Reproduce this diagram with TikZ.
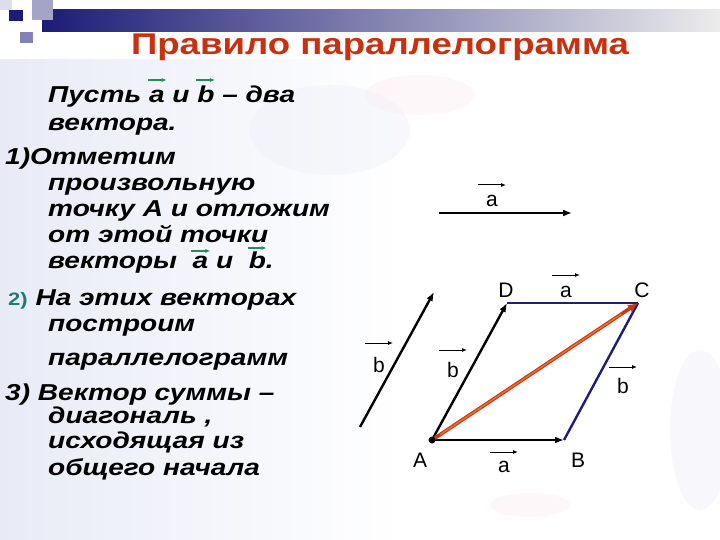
\documentclass[tikz,border=0pt]{standalone}
\usepackage{fontspec}
\setmainfont{Liberation Sans}
\newfontfamily\slidefont[FakeStretch=1.22]{Liberation Sans}
\usepackage{tikz}
\usetikzlibrary{arrows.meta, calc}

\definecolor{titlered}{RGB}{200,48,15}
\definecolor{navybar}{RGB}{28,28,120}
\definecolor{sideblue}{RGB}{30,30,120}
\definecolor{sumred}{RGB}{200,55,25}
\definecolor{sumorange}{RGB}{240,120,40}
\definecolor{vecgreen}{RGB}{40,140,90}
\definecolor{numteal}{RGB}{30,125,115}
\definecolor{bgblue}{RGB}{232,235,246}
\definecolor{bgpink}{RGB}{250,236,240}

\tikzset{
  txt/.style={font=\slidefont\fontsize{23}{23}\selectfont\bfseries\itshape, anchor=base west, inner sep=0pt},
  ptlabel/.style={font=\fontsize{21}{21}\selectfont, anchor=base, inner sep=0pt},
  vecline/.style={line width=2.4pt, -{Latex[length=9pt,width=7pt]}},
  sideline/.style={line width=2.4pt, sideblue},
  sumline/.style={line width=3.6pt, sumred, -{Latex[length=10pt,width=9pt]}},
  overarrow/.style={line width=1pt, -{Latex[length=5pt,width=4pt]}},
  tvecarrow/.style={line width=1.2pt, vecgreen, -{Latex[length=5pt,width=4pt]}}
}

% green arrow over a letter in the text
\newcommand\tvec[2][23]{\tikz[baseline=(v.base),x=1pt,y=1pt]{\node[inner sep=0pt,anchor=base] (v) at (0,0) {#2};
  \draw[tvecarrow, overlay] ([xshift=-1pt,yshift=#1pt]v.base west) -- ++(19,0);}}

\begin{document}
\begin{tikzpicture}[x=1pt,y=-1pt]
	\useasboundingbox (0,0) rectangle (720,540);
	% background
	\fill[white] (0,0) rectangle (720,540);
	\shade[left color=bgblue, right color=white] (0,60) rectangle (400,540);
	\fill[bgblue, opacity=0.3] (330,130) ellipse (80 and 45);
	\fill[bgblue, opacity=0.3] (700,430) ellipse (30 and 80);
	\fill[bgpink, opacity=0.4] (420,95) ellipse (55 and 20);
	\fill[bgpink, opacity=0.4] (530,505) ellipse (40 and 12);
	% header bar and squares
	\shade[left color=navybar, right color=gray!15] (42,10) rectangle (720,32);
	\fill[navybar!40] (32,0) rectangle (53,20);
	\fill[navybar!55] (20,32) rectangle (33,43);
	\fill[navybar!15] (0,0) rectangle (12,10);
	\fill[navybar] (9,10) rectangle (23,21);
	\node[font=\slidefont\fontsize{30}{30}\selectfont\bfseries, text=titlered, anchor=base, inner sep=0pt] (title) at (380,55) {Правило параллелограмма};

	% text
	\node[txt] (t1) at (48,103) {Пусть \tvec{a} и \tvec{b} – два};
	\node[txt] (t2) at (48,131) {вектора.};
	\node[txt] (t3) at (5,165) {1)Отметим};
	\node[txt] (t4) at (48,191) {произвольную};
	\node[txt] (t5) at (48,217) {точку А и отложим};
	\node[txt] (t6) at (48,242) {от этой точки};
	\node[txt] (t7) at (48,268) {векторы \ \tvec[17]{a} и \ \tvec[20]{b}.};
	\node[txt] (t8) at (8,305) {{\fontsize{18}{18}\selectfont\upshape\color{numteal}2)} На этих векторах};
	\node[txt] (t9) at (48,331) {построим};
	\node[txt] (t10) at (48,365) {параллелограмм};
	\node[txt] (t11) at (5,400) {3) Вектор суммы –};
	\node[txt] (t12) at (48,423) {диагональ ,};
	\node[txt] (t13) at (48,448) {исходящая из};
	\node[txt] (t14) at (48,475) {общего начала};

	% vectors
	\coordinate (a1) at (439,213);
	\coordinate (a2) at (572,213);
	\coordinate (b1) at (360,427);
	\coordinate (b2) at (434,292);
	\coordinate (A) at (432,440);
	\coordinate (B) at (564,440);
	\coordinate (C) at (638,303);
	\coordinate (D) at (507,303);
	\draw[vecline] (a1) -- (a2);
	\draw[vecline] (b1) -- (b2);
	\draw[sideline] (D) -- (C);
	\draw[sideline] (B) -- (C);
	\draw[vecline] (A) -- (B);
	\draw[vecline] (A) -- (D);
	\draw[sumline] (A) -- (C);
	\draw[sumorange, line width=1.2pt] ($(A)!0.04!(C)$) -- ($(A)!0.92!(C)$);
	\fill (A) circle (3.5);

	% labels
	\node[ptlabel] (la) at (492,207) {a};
	\node[ptlabel] (lb) at (379,372) {b};
	\node[ptlabel] (lA) at (420,467) {A};
	\node[ptlabel] (lB) at (578,467) {B};
	\node[ptlabel] (lC) at (642,297) {C};
	\node[ptlabel] (lD) at (506,297) {D};
	\node[ptlabel] (lDC) at (566,297) {a};
	\node[ptlabel] (lAB) at (504,472) {a};
	\node[ptlabel] (lAD) at (453,377) {b};
	\node[ptlabel] (lBC) at (623,393) {b};
	\foreach \l/\h in {la/22, lDC/22, lAB/20, lb/29, lAD/27, lBC/26}
		\draw[overarrow] ([shift={(-14,-\h)}]\l.base) -- ++(28,0);
\end{tikzpicture}
\end{document}
